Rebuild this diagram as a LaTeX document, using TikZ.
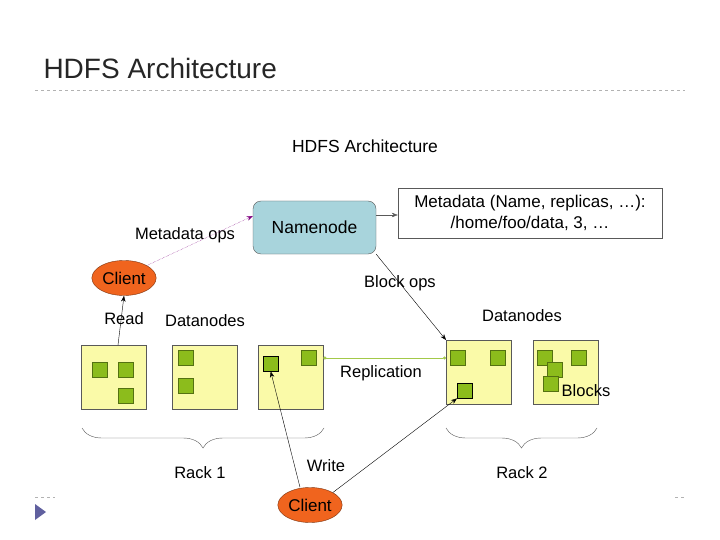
\documentclass[tikz,border=0pt]{standalone}
\usepackage{fontspec}
\setmainfont{Liberation Sans}
\usetikzlibrary{decorations.pathreplacing, shapes.geometric, arrows.meta}
\definecolor{boxy}{HTML}{FAFAA8}
\definecolor{blk}{HTML}{8CBC1C}
\definecolor{nn}{HTML}{A8D4DC}
\definecolor{cl}{HTML}{F0641E}
\tikzset{
  dn/.style={draw=gray!70!black, fill=boxy, minimum width=65pt, minimum height=64pt, inner sep=0pt, anchor=north west},
  blk/.style={draw=blk!60!black, fill=blk, minimum size=15pt, inner sep=0pt, anchor=north west},
  client/.style={ellipse, draw=cl!50!black, fill=cl, minimum width=64pt, minimum height=35pt, inner sep=1pt, font=\fontsize{17}{19}\selectfont},
  lbl/.style={font=\fontsize{16.5}{18}\selectfont},
  arr/.style={-{Stealth[length=6pt]}, thin}
}
\begin{document}
\begin{tikzpicture}[x=1pt, y=-1pt]
\useasboundingbox (0,0) rectangle (720,540);
\fill[white] (0,0) rectangle (720,540);
% slide frame
\node[anchor=west, font=\fontsize{28}{32}\selectfont, text=black!85] (t) at (40,68) {HDFS Architecture};
\draw[gray!60, dashed] (35,90) -- (685,90);
\draw[gray!60, dashed] (35,497) -- (55,497);
\draw[gray!60, dashed] (675,497) -- (685,497);
\fill[blue!25!gray] (35,504) -- (35,520) -- (46,512) -- cycle;
% diagram
\node[font=\fontsize{17.5}{20}\selectfont] (title) at (365,146) {HDFS Architecture};
\node[draw=gray!70!black, fill=nn, rounded corners=8pt, minimum width=123pt, minimum height=53pt, font=\fontsize{17.5}{20}\selectfont] (nn) at (314.5,227.5) {Namenode};
\node[draw=gray!70!black, fill=white, minimum width=264pt, minimum height=50pt, inner sep=1pt, align=center, font=\fontsize{17}{21}\selectfont] (meta) at (530,213) {Metadata (Name, replicas, \dots):\\/home/foo/data, 3, \dots};
\draw[arr, gray!70!black] (nn.east |- 0,215) -- (meta.west |- 0,215);
\node[client] (c1) at (124,278) {Client};
\node[client] (c2) at (310,505) {Client};
% datanodes
\node[dn] (d1) at (81,345) {};
\node[dn] (d2) at (172,345) {};
\node[dn] (d3) at (258,345) {};
\node[dn] (d4) at (446,340) {};
\node[dn] (d5) at (533,340) {};
\node[blk] (b11) at (92,362) {};
\node[blk] (b12) at (118,362) {};
\node[blk] (b13) at (118,388) {};
\node[blk] (b21) at (178,350) {};
\node[blk] (b22) at (178,378) {};
\node[blk, draw=black] (b31) at (263,356) {};
\node[blk] (b32) at (301,350) {};
\node[blk] (b41) at (450,350) {};
\node[blk] (b42) at (490,350) {};
\node[blk, draw=black] (b43) at (457,383) {};
\node[blk] (b51) at (537,350) {};
\node[blk] (b52) at (571,350) {};
\node[blk] (b53) at (547,362) {};
\node[blk] (b54) at (543,376) {};
% labels
\node[lbl] (lmo) at (185,235) {Metadata ops};
\node[lbl] (lread) at (124,319) {Read};
\node[lbl] (ldn1) at (205,321) {Datanodes};
\node[lbl] (ldn2) at (522,316) {Datanodes};
\node[lbl] (lbo) at (400,283) {Block ops};
\node[lbl] (lrep) at (381,373) {Replication};
\node[lbl] (lblk) at (586,391) {Blocks};
\node[lbl] (lwr) at (326,466) {Write};
\node[lbl] (lr1) at (200,473) {Rack 1};
\node[lbl] (lr2) at (522,473) {Rack 2};
% connectors
\draw[arr, violet, densely dotted] (c1.north east) -- (nn.west |- 0,216);
\draw[arr] (d1.north -| 118,0) -- (c1.south);
\draw[arr] (nn.south east) -- (d4.north west);
\draw[blk!80!white, thick, {Circle[length=3pt]}-{Circle[length=3pt]}] (d3.east |- 0,358) -- (d4.west |- 0,358);
\draw[arr] (c2.north) ++(-10,0) coordinate (w1) -- (b31.south);
\draw[arr] (c2.north east) -- (b43.south west);
% racks
\draw[decorate, decoration={brace, mirror, amplitude=20pt}, gray!70!black] (82,428) -- (324,428);
\draw[decorate, decoration={brace, mirror, amplitude=20pt}, gray!70!black] (446,428) -- (597,428);
\end{tikzpicture}
\end{document}
